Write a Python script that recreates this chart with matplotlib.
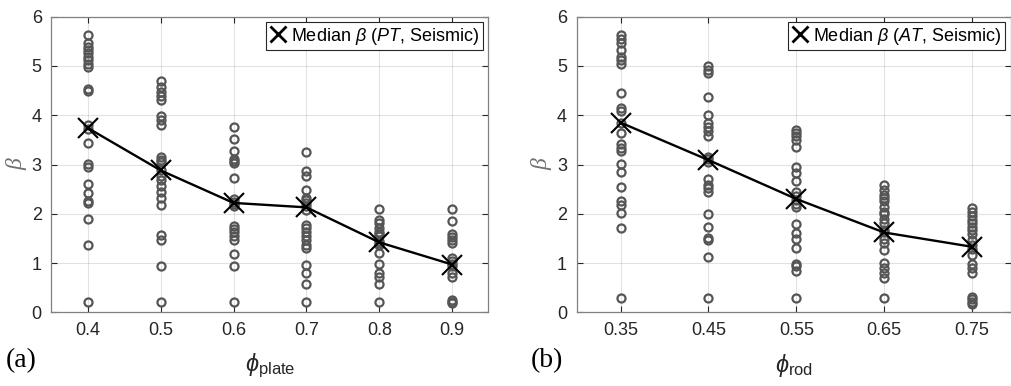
import numpy as np
import matplotlib
matplotlib.use('Agg')
import matplotlib.pyplot as plt

plt.rcParams['font.family'] = ['Liberation Sans', 'DejaVu Sans']
plt.rcParams['mathtext.fontset'] = 'custom'
plt.rcParams['mathtext.rm'] = 'Liberation Sans'
plt.rcParams['mathtext.sf'] = 'Liberation Sans'
plt.rcParams['mathtext.it'] = 'Liberation Sans:italic'
plt.rcParams['mathtext.bf'] = 'Liberation Sans:bold'
plt.rcParams['mathtext.fallback'] = 'stix'

# panel (a): phi_plate
phi_plate = [0.4, 0.5, 0.6, 0.7, 0.8, 0.9]
beta_plate = [
    [5.63, 5.46, 5.39, 5.32, 5.26, 5.19, 5.12, 5.05, 4.97, 4.53, 4.50, 3.80, 3.73,
     3.43, 3.01, 2.94, 2.60, 2.43, 2.25, 2.22, 1.89, 1.37, 0.20],
    [4.69, 4.58, 4.47, 4.39, 4.31, 3.99, 3.90, 3.81, 3.16, 3.10, 3.05, 2.89, 2.77,
     2.69, 2.57, 2.45, 2.33, 2.18, 1.57, 1.47, 0.94, 0.20],
    [3.76, 3.52, 3.27, 3.12, 3.07, 3.03, 2.72, 2.30, 2.24, 2.20, 2.16, 1.76, 1.70,
     1.62, 1.54, 1.47, 1.18, 0.94, 0.20],
    [3.26, 2.86, 2.77, 2.48, 2.33, 2.28, 2.22, 2.15, 2.08, 1.77, 1.71, 1.64, 1.55,
     1.47, 1.37, 1.31, 0.96, 0.79, 0.58, 0.20],
    [2.10, 1.87, 1.81, 1.71, 1.64, 1.59, 1.54, 1.45, 1.40, 1.37, 1.20, 0.99, 0.79,
     0.72, 0.58, 0.20],
    [2.10, 1.86, 1.59, 1.52, 1.47, 1.40, 1.10, 1.05, 0.99, 0.93, 0.79, 0.72, 0.24,
     0.20, 0.18],
]
median_plate = [3.74, 2.88, 2.22, 2.13, 1.42, 0.97]

# panel (b): phi_rod
phi_rod = [0.35, 0.45, 0.55, 0.65, 0.75]
beta_rod = [
    [5.63, 5.54, 5.46, 5.32, 5.19, 5.12, 5.05, 4.46, 4.14, 4.08, 3.85, 3.63, 3.41,
     3.34, 3.28, 3.01, 2.85, 2.55, 2.25, 2.18, 2.01, 1.71, 0.30],
    [4.99, 4.92, 4.86, 4.38, 4.01, 3.84, 3.76, 3.67, 3.57, 3.16, 3.11, 3.06, 2.70,
     2.58, 2.52, 2.45, 2.00, 1.73, 1.50, 1.47, 1.12, 0.30],
    [3.70, 3.64, 3.57, 3.50, 3.35, 2.95, 2.83, 2.67, 2.45, 2.36, 2.28, 2.20, 2.14,
     1.79, 1.61, 1.48, 1.30, 0.98, 0.93, 0.83, 0.30],
    [2.58, 2.48, 2.38, 2.31, 2.25, 2.14, 2.04, 2.00, 1.89, 1.81, 1.67, 1.62, 1.48,
     1.40, 1.27, 1.00, 0.89, 0.79, 0.69, 0.30],
    [2.12, 2.04, 1.96, 1.87, 1.81, 1.74, 1.67, 1.59, 1.47, 1.37, 1.28, 1.16, 0.98,
     0.89, 0.79, 0.32, 0.26, 0.21, 0.16],
]
median_rod = [3.85, 3.09, 2.30, 1.62, 1.33]

W, H = 1012, 386
fig = plt.figure(figsize=(W / 100, H / 100), dpi=100)

axc = '#262626'


def panel(rect, xs, groups, med, xlim, xlab, leg, tag):
    ax = fig.add_axes(rect)
    for x, g in zip(xs, groups):
        ax.plot([x] * len(g), g, 'o', ls='none', ms=5.8, mfc='none',
                mec='#555555', mew=1.6, zorder=3)
    ax.plot(xs, med, '-', color='k', lw=1.7, zorder=4)
    ax.plot(xs, med, 'x', ls='none', color='k', ms=15, mew=1.5, zorder=5,
            label=leg)
    ax.set_xlim(*xlim)
    ax.set_ylim(0, 6)
    ax.set_xticks(xs)
    ax.set_xticklabels(['%g' % v for v in xs])
    ax.set_yticks(range(7))
    ax.grid(True, color='#262626', alpha=0.13, lw=0.8)
    ax.set_axisbelow(True)
    ax.tick_params(direction='in', top=True, right=True, length=4,
                   colors=axc, labelsize=13, pad=7)
    for s in ax.spines.values():
        s.set_color('#808080')
        s.set_linewidth(0.9)
    ax.set_xlabel(xlab, fontsize=17, color=axc, labelpad=9)
    ax.set_ylabel('β', fontsize=17, color='#707070', labelpad=3,
                  family=['Liberation Serif'], style='italic')
    lg = ax.legend(loc='upper right', fontsize=13, handlelength=0.9,
                   handletextpad=0.3, borderpad=0.2, borderaxespad=0.3,
                   fancybox=False, framealpha=1, edgecolor='#262626')
    lg.legend_handles[0].set_markersize(12)
    lg.legend_handles[0].set_markeredgewidth(2)
    lg.get_frame().set_linewidth(0.8)
    fig.text(rect[0] - 46 / W, 0.05, tag, fontsize=20,
             family=['Liberation Serif'], color='k')
    return ax


panel([51.5 / W, 1 - 312.3 / H, 437 / W, 295.6 / H], phi_plate, beta_plate,
      median_plate, (0.35, 0.95), r'$\phi_{\rm plate}$',
      r'Median $\beta$ ($PT$, Seismic)', '(a)')
panel([576.7 / W, 1 - 312.3 / H, 434 / W, 295.6 / H], phi_rod, beta_rod,
      median_rod, (0.30, 0.794), r'$\phi_{\rm rod}$',
      r'Median $\beta$ ($AT$, Seismic)', '(b)')

fig.savefig('out.png', dpi=100)
